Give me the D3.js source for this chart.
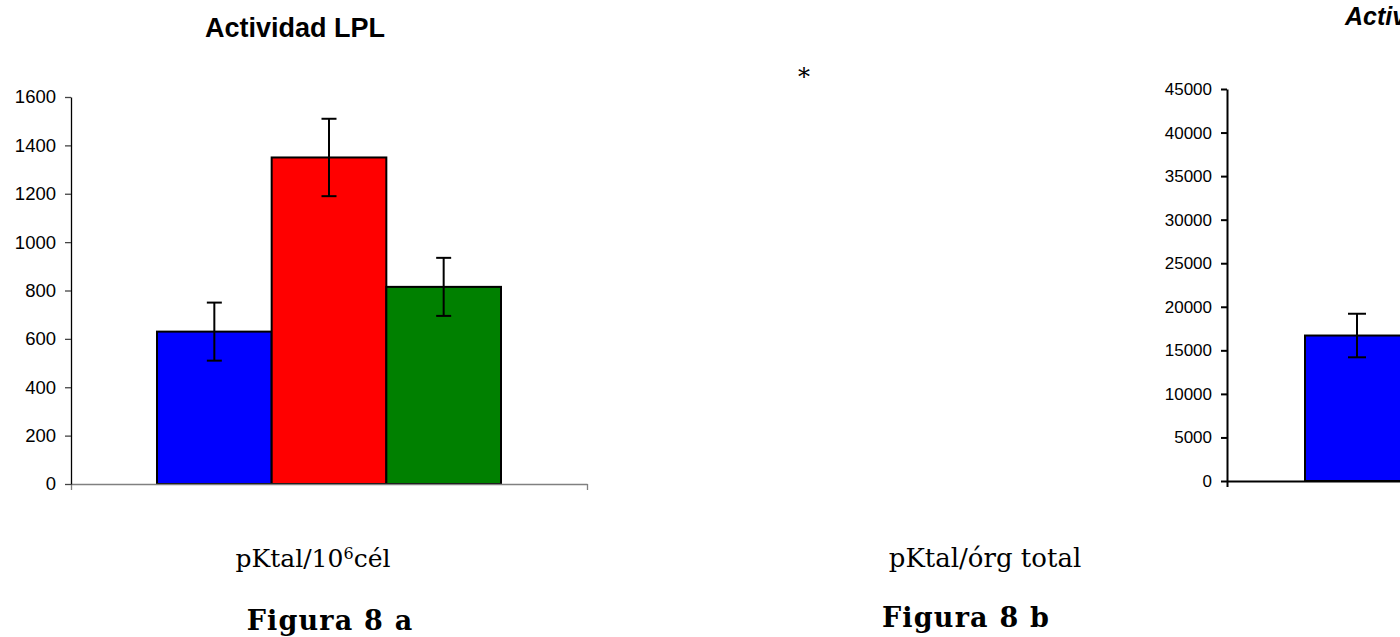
<!DOCTYPE html>
<html>
<head>
<meta charset="utf-8">
<script src="https://cdn.jsdelivr.net/npm/d3@7"></script>
<style>
  body { margin: 0; background: #fff; }
  svg { display: block; }
  .tick text { font-family: "Liberation Sans", Arial, sans-serif; fill: #000; }
  .caption { font-family: "DejaVu Serif", serif; fill: #000; }
</style>
</head>
<body>
<svg width="1400" height="637"></svg>
<script>
// groups (one category, three series)
var series = ['Grupo 1', 'Grupo 2', 'Grupo 3'];
var colors = ['#0000ff', '#ff0000', '#008000'];

// Figura 8 a: pKtal/10^6 cél
var valuesA = [630, 1350, 815];
var errorsA = [120, 160, 120];
var ticksA = [0, 200, 400, 600, 800, 1000, 1200, 1400, 1600];

// Figura 8 b: pKtal/órg total (only first bar visible)
var valuesB = [16700, null, null];
var errorsB = [2500, null, null];
var ticksB = [0, 5000, 10000, 15000, 20000, 25000, 30000, 35000, 40000, 45000];

var svg = d3.select('svg');

function drawChart(opt) {
  var g = svg.append('g');

  var y = d3.scaleLinear()
    .domain([0, opt.max])
    .range([opt.bottom, opt.top]);

  var x = d3.scaleBand()
    .domain(series)
    .range([opt.left, opt.right])
    .paddingInner(0)
    .paddingOuter(0.75);

  // bars
  var data = series.map((s, i) => ({ s: s, v: opt.values[i], e: opt.errors[i], c: colors[i] }))
    .filter(d => d.v != null);

  g.selectAll('.bar')
    .data(data)
    .enter()
    .append('rect')
    .classed('bar', true)
    .attr('x', d => x(d.s))
    .attr('width', x.bandwidth())
    .attr('y', d => y(d.v))
    .attr('height', d => y(0) - y(d.v))
    .attr('fill', d => d.c)
    .attr('stroke', '#000')
    .attr('stroke-width', 2);

  // error bars
  var err = g.selectAll('.err')
    .data(data)
    .enter()
    .append('g')
    .classed('err', true)
    .attr('stroke', '#000')
    .attr('stroke-width', 2);

  var cx = d => x(d.s) + x.bandwidth() / 2;
  err.append('line')
    .attr('x1', cx).attr('x2', cx)
    .attr('y1', d => y(d.v + d.e)).attr('y2', d => y(d.v - d.e));
  err.append('line')
    .attr('x1', d => cx(d) - opt.cap / 2).attr('x2', d => cx(d) + opt.cap / 2)
    .attr('y1', d => y(d.v + d.e)).attr('y2', d => y(d.v + d.e));
  err.append('line')
    .attr('x1', d => cx(d) - opt.cap / 2).attr('x2', d => cx(d) + opt.cap / 2)
    .attr('y1', d => y(d.v - d.e)).attr('y2', d => y(d.v - d.e));

  // category axis (single category, ticks at its two edges)
  var xEdge = d3.scaleLinear().domain([0, 1]).range([opt.left, opt.right]);
  var xAxis = g.append('g')
    .attr('transform', 'translate(0,' + opt.bottom + ')')
    .call(d3.axisBottom(xEdge).tickValues([0, 1]).tickFormat('').tickSize(6).tickSizeOuter(0));
  xAxis.selectAll('path, line')
    .attr('stroke', opt.xColor)
    .attr('stroke-width', opt.lineW);

  // value axis
  var yAxis = g.append('g')
    .attr('transform', 'translate(' + opt.left + ',0)')
    .call(d3.axisLeft(y).tickValues(opt.ticks).tickFormat(d3.format('d')).tickSize(6).tickSizeOuter(0).tickPadding(opt.pad));
  yAxis.select('.domain').attr('stroke', '#000').attr('stroke-width', opt.lineW);
  yAxis.selectAll('.tick line').attr('stroke', opt.tickColor).attr('stroke-width', opt.lineW);
  yAxis.selectAll('.tick text').style('font-size', opt.font + 'px');
  yAxis.attr('font-family', null);

  return g;
}

drawChart({
  values: valuesA, errors: errorsA, ticks: ticksA, max: 1600,
  left: 71, right: 587, top: 97, bottom: 484,
  cap: 15, pad: 9, font: 18.5, lineW: 1.3, xColor: '#808080', tickColor: '#444'
});

drawChart({
  values: valuesB, errors: errorsB, ticks: ticksB, max: 45000,
  left: 1227, right: 1695, top: 89, bottom: 481,
  cap: 18, pad: 9, font: 17, lineW: 2, xColor: '#000', tickColor: '#000'
});

// chart titles
svg.append('text')
  .attr('x', 295).attr('y', 37)
  .attr('text-anchor', 'middle')
  .style('font-family', '"Liberation Sans", Arial, sans-serif')
  .style('font-weight', 'bold')
  .style('font-size', '27px')
  .text('Actividad LPL');

// second chart title runs past the right edge, as in the source page
svg.append('text')
  .attr('x', 1345).attr('y', 25)
  .style('font-family', '"Liberation Sans", Arial, sans-serif')
  .style('font-weight', 'bold')
  .style('font-style', 'italic')
  .style('font-size', '25px')
  .text('Actividad LPL');

// significance mark
svg.append('text')
  .classed('caption', true)
  .attr('x', 804).attr('y', 85)
  .attr('text-anchor', 'middle')
  .style('font-size', '24px')
  .text('*');

// units and figure captions
var unitA = svg.append('text')
  .classed('caption', true)
  .attr('x', 313).attr('y', 567)
  .attr('text-anchor', 'middle')
  .style('font-size', '25px');
unitA.append('tspan').text('pKtal/10');
unitA.append('tspan').attr('dy', -8).style('font-size', '16px').text('6');
unitA.append('tspan').attr('dy', 8).text('cél');

svg.append('text')
  .classed('caption', true)
  .attr('x', 985).attr('y', 567)
  .attr('text-anchor', 'middle')
  .style('font-size', '26px')
  .text('pKtal/órg total');

svg.append('text')
  .classed('caption', true)
  .attr('x', 330).attr('y', 630)
  .attr('text-anchor', 'middle')
  .style('font-size', '27px')
  .style('font-weight', 'bold')
  .style('letter-spacing', '1.2px')
  .text('Figura 8 a');

svg.append('text')
  .classed('caption', true)
  .attr('x', 966).attr('y', 627)
  .attr('text-anchor', 'middle')
  .style('font-size', '27px')
  .style('font-weight', 'bold')
  .style('letter-spacing', '1.2px')
  .text('Figura 8 b');
</script>
</body>
</html>
